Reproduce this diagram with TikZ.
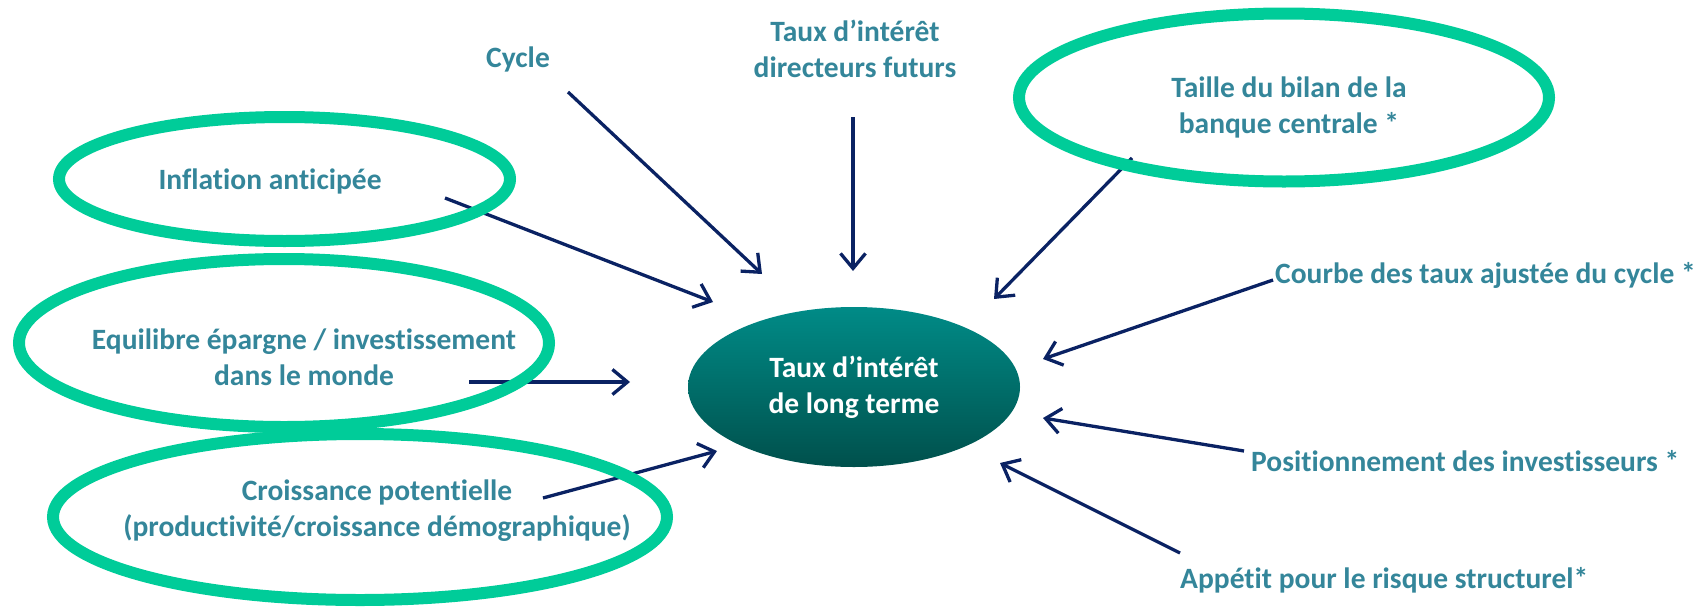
\documentclass[tikz,border=0pt]{standalone}
\usepackage{fontspec}
\setmainfont{Carlito}[Ligatures={NoCommon}]
\usetikzlibrary{arrows.meta,shapes.geometric}
\definecolor{txt}{HTML}{34869A}
\definecolor{navy}{HTML}{0A2263}
\definecolor{ring}{HTML}{00CC99}
\definecolor{ctop}{HTML}{008B87}
\definecolor{cbot}{HTML}{00504C}
\begin{document}
\begin{tikzpicture}[x=1pt,y=-1pt,
  lbl/.style={text=txt,font=\fontsize{29.5}{36}\selectfont\bfseries,inner sep=0pt,align=center},
  ringe/.style={draw=ring,line width=12pt},
  arr/.style={draw=navy,line width=3.3pt,-{Straight Barb[length=15pt,width=25pt]}}]
\useasboundingbox (0,0) rectangle (1707,608);
% arrow end points
\coordinate (cycS) at (568,92);   \coordinate (cycE) at (762,274);
\coordinate (tdS) at (853,117);   \coordinate (tdE) at (853,271);
\coordinate (taS) at (1132,158);  \coordinate (taE) at (994,299);
\coordinate (inS) at (445,198);   \coordinate (inE) at (713,302);
\coordinate (eqS) at (469,382);   \coordinate (eqE) at (630,382);
\coordinate (crS) at (543,498);   \coordinate (crE) at (717,451);
\coordinate (coS) at (1273,280);  \coordinate (coE) at (1043,359);
\coordinate (poS) at (1244,451);  \coordinate (poE) at (1043,418);
\coordinate (apS) at (1180,553);  \coordinate (apE) at (1000,463);
% arrows
\draw[arr] (cycS) -- (cycE);
\draw[arr] (tdS) -- (tdE);
\draw[arr] (taS) -- (taE);
\draw[arr] (inS) -- (inE);
\draw[arr] (eqS) -- (eqE);
\draw[arr] (crS) -- (crE);
\draw[arr] (coS) -- (coE);
\draw[arr] (poS) -- (poE);
\draw[arr] (apS) -- (apE);
% highlight rings
\draw[ringe] (284.5,179) ellipse [x radius=225.5pt, y radius=62pt];
\draw[ringe] (284,343) ellipse [x radius=265pt, y radius=84pt];
\draw[ringe] (360,517) ellipse [x radius=307pt, y radius=83pt];
\draw[ringe] (1284,97.5) ellipse [x radius=265pt, y radius=84pt];
% central node
\node[ellipse, minimum width=332pt, minimum height=160pt, inner sep=0pt,
      top color=ctop, bottom color=cbot, draw=none, text=white,
      font=\fontsize{29.5}{36}\selectfont\bfseries, align=center] (core) at (854,387)
      {Taux d’intérêt\\de long terme};
% labels
\node[lbl,anchor=base] (infl) at (270,189) {Inflation anticipée};
\node[lbl] (equi) at (304,357) {Equilibre épargne / investissement\\dans le monde};
\node[lbl] (crois) at (377,511) {Croissance potentielle\\(productivité/croissance démographique)};
\node[lbl] (taille) at (1289,107) {Taille du bilan de la\\banque centrale *};
\node[lbl,anchor=base] (cycle) at (518,67) {Cycle};
\node[lbl] (tdir) at (855,49) {Taux d’intérêt\\directeurs futurs};
\node[lbl,anchor=base west] (courbe) at (1275,283) {Courbe des taux ajustée du cycle *};
\node[lbl,anchor=base west] (posi) at (1251,471) {Positionnement des investisseurs *};
\node[lbl,anchor=base west] (appe) at (1180,588) {Appétit pour le risque structurel*};
\end{tikzpicture}
\end{document}
